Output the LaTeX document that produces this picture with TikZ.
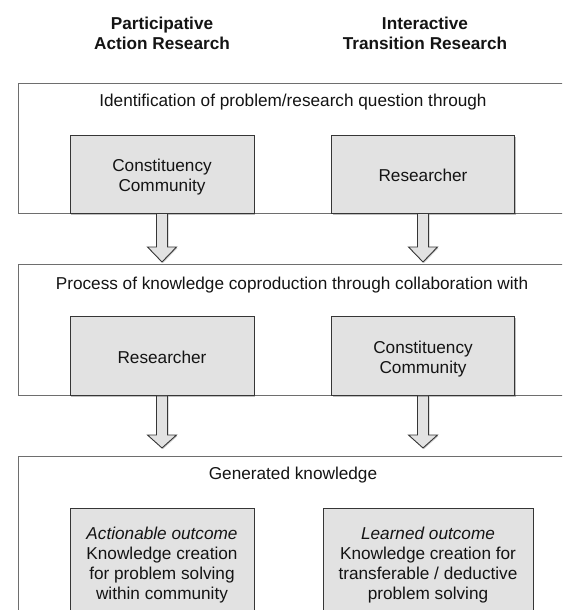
\documentclass[tikz,border=0pt]{standalone}
\usepackage{fontspec}
\setmainfont{Liberation Sans}
\usetikzlibrary{calc,shadows}
\definecolor{frameline}{HTML}{6E6E6E}
\definecolor{boxline}{HTML}{363636}
\definecolor{boxfill}{HTML}{E2E2E2}
\definecolor{txt}{HTML}{141414}
\newcommand{\cell}[1]{\raisebox{-3pt}[\height][\depth]{\begin{tabular}{@{}c@{}}#1\end{tabular}}}
\tikzset{
  every node/.style={font=\fontsize{17.2}{20}\selectfont, text=txt},
  bigbox/.style={draw=frameline, line width=1.3pt, fill=white, rectangle, inner sep=0pt},
  innerbox/.style={draw=boxline, line width=0.9pt, fill=boxfill, rectangle, align=center, inner sep=0pt,
     drop shadow={shadow xshift=1pt, shadow yshift=-1.5pt, opacity=0.25, fill=black}},
  headtext/.style={align=center, font=\fontsize{17.2}{20}\selectfont\bfseries},
  titletext/.style={align=center, inner sep=0pt},
  blockarrow/.style={draw=boxline, line width=0.9pt, fill=boxfill, line join=miter,
     drop shadow={shadow xshift=1pt, shadow yshift=-1pt, opacity=0.2, fill=black}}
}
\newcommand{\flowarrow}[3]{% source node, tip coordinate, head length
  \draw[blockarrow] ($(#1.south)+(-5.5,0)$) -- ($(#2)+(-5.5,-#3)$) -- ($(#2)+(-14.5,-#3)$) -- (#2)
    -- ($(#2)+(14.5,-#3)$) -- ($(#2)+(5.5,-#3)$) -- ($(#1.south)+(5.5,0)$) -- cycle;}
\begin{document}
\begin{tikzpicture}[x=1pt,y=-1pt]
\useasboundingbox (0,0) rectangle (562,610);
\clip (0,0) rectangle (562,610);

% column headings
\node[headtext] (h1) at (162,33) {Participative\\Action Research};
\node[headtext] (h2) at (425,33) {Interactive\\Transition Research};

% big frames
\node[bigbox, anchor=north west, minimum width=548, minimum height=130] (b1) at (18,83) {};
\node[bigbox, anchor=north west, minimum width=548, minimum height=131] (b2) at (18,264) {};
\node[bigbox, anchor=north west, minimum width=548, minimum height=170] (b3) at (18,456) {};

% frame titles
\node[titletext] (t1) at (293,102) {Identification of problem/research question through};
\node[titletext] (t2) at (292,285) {Process of knowledge coproduction through collaboration with};
\node[titletext] (t3) at (293,475) {Generated knowledge};

% row 1
\node[innerbox, minimum width=184, minimum height=78] (r1a) at (162,174) {\cell{Constituency\\Community}};
\node[innerbox, minimum width=183, minimum height=78] (r1b) at (423,174) {\cell{Researcher}};

% row 2
\node[innerbox, minimum width=184, minimum height=79] (r2a) at (162,356) {\cell{Researcher}};
\node[innerbox, minimum width=183, minimum height=79] (r2b) at (423,356) {\cell{Constituency\\Community}};

% row 3
\node[innerbox, minimum width=184, minimum height=108] (r3a) at (162,562)
  {\cell{\textit{Actionable outcome}\\Knowledge creation\\for problem solving\\within community}};
\node[innerbox, minimum width=210, minimum height=108] (r3b) at (428,562)
  {\cell{\textit{Learned outcome}\\Knowledge creation for\\transferable / deductive\\problem solving}};

% arrow tips
\coordinate (a1) at (162,262);
\coordinate (a2) at (423,262);
\coordinate (a3) at (162,448);
\coordinate (a4) at (423,448);

\flowarrow{r1a}{a1}{15}
\flowarrow{r1b}{a2}{15}
\flowarrow{r2a}{a3}{13}
\flowarrow{r2b}{a4}{13}
\end{tikzpicture}
\end{document}
